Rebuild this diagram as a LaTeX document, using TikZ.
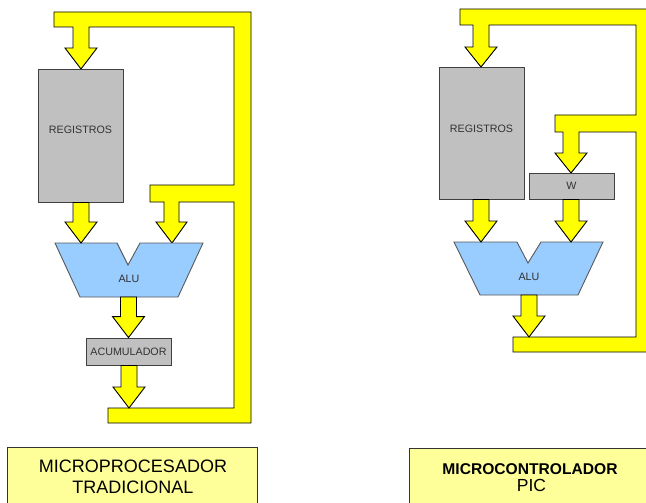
\documentclass[tikz,border=0pt]{standalone}
\usepackage{fontspec}
\setmainfont{Liberation Sans}
\usetikzlibrary{calc}
\definecolor{busyellow}{HTML}{FFFF00}
\definecolor{boxgray}{HTML}{C0C0C0}
\definecolor{alublue}{HTML}{99CCFF}
\definecolor{titleyellow}{HTML}{FFFF99}
\tikzset{
  busline/.style={fill=busyellow, draw=black, line width=0.9pt, line join=miter},
  graybox/.style={rectangle, fill=boxgray, draw=black!75, line width=0.9pt, inner sep=0pt},
  alushape/.style={fill=alublue, draw=black!65, line width=0.9pt},
  lbl/.style={font=\fontsize{10.7}{12}\selectfont, text=black!80, inner sep=0pt},
  titlebox/.style={rectangle, fill=titleyellow, draw=black!80, line width=0.9pt, inner sep=0pt},
  titletext/.style={inner sep=0pt, text=black},
}
% block arrow: from start point #1 (only its y is used) down to tip #2
\newcommand\yarrow[2]{%
  \draw[busline] let \p1=(#1), \p2=(#2) in
    (\x2-8pt,\y1) -- (\x2+8pt,\y1) -- (\x2+8pt,\y2+21pt) -- (\x2+16pt,\y2+21pt)
    -- (\x2,\y2) -- (\x2-16pt,\y2+21pt) -- (\x2-8pt,\y2+21pt) -- cycle;}
\begin{document}
\begin{tikzpicture}[x=1pt,y=-1pt]
\useasboundingbox (0,0) rectangle (646,503);
\fill[white] (0,0) rectangle (646,503);

% ================= LEFT: MICROPROCESADOR TRADICIONAL =================
% bus with the arrow into REGISTROS and the branch arrow into the ALU
\draw[busline] (54,12) -- (251,12) -- (251,423) -- (108,423) -- (108,408)
  -- (234,408) -- (234,202) -- (179,202) -- (179,222) -- (187,222) -- (172,243)
  -- (156,222) -- (164,222) -- (164,202) -- (150,202) -- (150,185) -- (234,185)
  -- (234,27) -- (89,27) -- (89,48) -- (97,48) -- (81,69) -- (65,48) -- (73,48)
  -- (73,27) -- (54,27) -- cycle;

\node[graybox, minimum width=85pt, minimum height=133pt] (regA) at (80.5,135.5) {};
\node[lbl] (regAt) at (80.5,130) {REGISTROS};

\draw[alushape] (55,243) -- (117,243) -- (128,265) -- (140,243) -- (203,243)
  -- (178,297) -- (80,297) -- cycle;
\node[lbl] (aluA) at (129,279) {ALU};
\coordinate (aluAinL) at (81,243);
\coordinate (aluAout) at (129,297);

\node[graybox, minimum width=85pt, minimum height=27pt] (accA) at (128.5,351.5) {};
\node[lbl] (accAt) at (128.5,351.5) {ACUMULADOR};
\coordinate (busAin) at (129,408);

\yarrow{regA.south}{aluAinL}
\yarrow{aluAout}{accA.north}
\yarrow{accA.south}{busAin}

\node[titlebox, minimum width=250pt, minimum height=63pt, anchor=north west] (titA) at (7,447) {};
\node[titletext, font=\fontsize{18}{20}\selectfont] (titA1) at (133,466) {MICROPROCESADOR};
\node[titletext, font=\fontsize{18}{20}\selectfont] (titA2) at (133,487) {TRADICIONAL};

% ================= RIGHT: MICROCONTROLADOR PIC =================
\draw[busline] (460,9) -- (652,9) -- (652,352) -- (513,352) -- (513,337)
  -- (636,337) -- (636,132) -- (579,132) -- (579,153) -- (587,153) -- (571,173)
  -- (555,153) -- (563,153) -- (563,132) -- (555,132) -- (555,115) -- (636,115)
  -- (636,25) -- (489,25) -- (489,47) -- (497,47) -- (481,67) -- (465,47) -- (473,47)
  -- (473,25) -- (460,25) -- cycle;

\node[graybox, minimum width=85pt, minimum height=132pt] (regB) at (481.5,133) {};
\node[lbl] (regBt) at (481.5,129) {REGISTROS};

\node[graybox, minimum width=85pt, minimum height=26pt] (wB) at (571.5,186) {};
\node[lbl] (wBt) at (571.5,186) {W};

\draw[alushape] (454,242) -- (517,242) -- (528,263) -- (541,242) -- (603,242)
  -- (578,295) -- (480,295) -- cycle;
\node[lbl] (aluB) at (529,277) {ALU};
\coordinate (aluBinL) at (481,242);
\coordinate (aluBinR) at (571,242);
\coordinate (aluBout) at (529,295);
\coordinate (busBin) at (529,337);

\yarrow{regB.south}{aluBinL}
\yarrow{wB.south}{aluBinR}
\yarrow{aluBout}{busBin}

\node[titlebox, minimum width=237pt, minimum height=63pt, anchor=north west] (titB) at (409,448) {};
\node[titletext, font=\bfseries\fontsize{15.6}{18}\selectfont] (titB1) at (530,469.5) {MICROCONTROLADOR};
\node[titletext, font=\fontsize{17.5}{20}\selectfont] (titB2) at (531.5,485) {PIC};
\end{tikzpicture}
\end{document}
